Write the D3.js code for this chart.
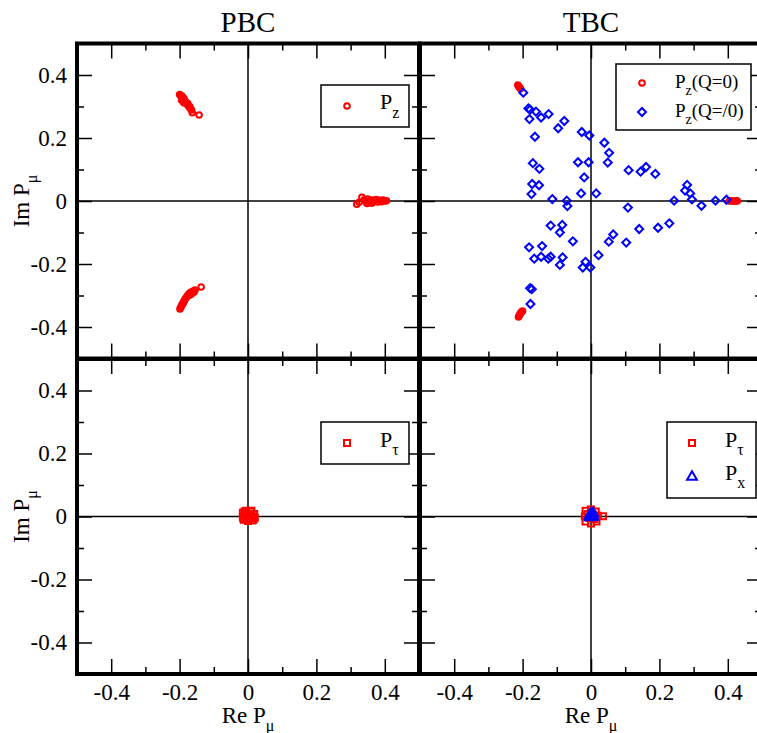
<!DOCTYPE html>
<html>
<head>
<meta charset="utf-8">
<script src="https://cdn.jsdelivr.net/npm/d3@7"></script>
<style>
  body { margin: 0; background: #fff; }
  svg text { font-family: "Liberation Serif", "DejaVu Serif", serif; fill: #000; }
</style>
</head>
<body>
<div id="chart"></div>
<script>
// PBC, P_z : three clusters
const pbcPz = [
  [-0.200, 0.338], [-0.197, 0.335], [-0.195, 0.331], [-0.193, 0.333], [-0.191, 0.327],
  [-0.189, 0.322], [-0.187, 0.325], [-0.185, 0.318], [-0.182, 0.315], [-0.180, 0.311],
  [-0.178, 0.306], [-0.176, 0.309], [-0.174, 0.302], [-0.172, 0.298], [-0.170, 0.300],
  [-0.168, 0.293], [-0.165, 0.289], [-0.163, 0.280], [-0.143, 0.273], [-0.188, 0.312],
  [-0.194, 0.320],
  [0.318, -0.010], [0.325, -0.004], [0.333, 0.012], [0.340, 0.004], [0.345, -0.002],
  [0.350, 0.006], [0.355, -0.003], [0.360, 0.003], [0.365, -0.004], [0.370, 0.002],
  [0.375, 0.005], [0.380, -0.003], [0.385, 0.002], [0.390, -0.002], [0.395, 0.003],
  [0.400, 0.000], [0.405, 0.001], [0.348, -0.008], [0.362, -0.007],
  [-0.199, -0.343], [-0.197, -0.338], [-0.195, -0.334], [-0.193, -0.329], [-0.190, -0.325],
  [-0.188, -0.320], [-0.186, -0.316], [-0.184, -0.312], [-0.182, -0.308], [-0.179, -0.304],
  [-0.176, -0.299], [-0.173, -0.295], [-0.170, -0.292], [-0.167, -0.290], [-0.163, -0.288],
  [-0.160, -0.286], [-0.155, -0.283], [-0.137, -0.273], [-0.172, -0.300], [-0.166, -0.296],
  [-0.158, -0.290]
];

// TBC, P_z with Q=0
const tbcPzQ0 = [
  [-0.214, 0.368], [-0.212, 0.365], [-0.210, 0.362], [-0.208, 0.359], [-0.206, 0.356],
  [-0.212, -0.368], [-0.210, -0.364], [-0.208, -0.360], [-0.206, -0.356], [-0.203, -0.352],
  [-0.200, -0.349],
  [0.405, 0.000], [0.410, 0.001], [0.415, -0.001], [0.420, 0.000], [0.425, 0.001], [0.428, 0.000]
];

// TBC, P_z with Q != 0
const tbcPzQn = [
  [-0.198, 0.344], [-0.183, 0.294], [-0.178, 0.290], [-0.161, 0.284], [-0.180, 0.260],
  [-0.146, 0.265], [-0.124, 0.276], [-0.078, 0.254], [-0.096, 0.231], [-0.164, 0.204],
  [-0.027, 0.219], [-0.005, 0.208], [0.039, 0.185], [0.053, 0.153], [0.049, 0.122],
  [-0.170, 0.120], [-0.151, 0.102], [-0.038, 0.123], [-0.007, 0.123], [-0.020, 0.075],
  [-0.172, 0.054], [-0.152, 0.050], [-0.174, 0.022], [-0.029, 0.024], [0.015, 0.024],
  [-0.113, 0.006], [-0.071, 0.001], [0.110, 0.098], [0.145, 0.093], [0.161, 0.108],
  [0.188, 0.086], [0.281, 0.051], [0.275, 0.033], [0.290, 0.024], [0.295, 0.005],
  [0.243, 0.001], [0.364, 0.001], [0.396, 0.004], [0.323, -0.015], [0.108, -0.021],
  [-0.069, -0.016],
  [-0.118, -0.078], [-0.084, -0.076], [-0.091, -0.100], [-0.053, -0.128], [-0.181, -0.147],
  [-0.143, -0.143], [-0.166, -0.183], [-0.146, -0.177], [-0.125, -0.183], [-0.118, -0.177],
  [-0.083, -0.179], [-0.091, -0.203], [-0.024, -0.211], [-0.016, -0.193], [-0.002, -0.211],
  [0.022, -0.172], [0.052, -0.129], [0.065, -0.106], [0.103, -0.132], [0.141, -0.089],
  [0.196, -0.085], [0.229, -0.071], [-0.178, -0.277], [-0.173, -0.280], [-0.177, -0.327]
];

// PBC, P_tau
const pbcPtau = [
  [-0.015, 0.012], [-0.005, 0.018], [0.008, 0.016], [0.018, 0.008], [0.020, -0.004],
  [0.012, -0.013], [0.000, -0.014], [-0.012, -0.010], [-0.015, 0.000], [0.000, 0.000],
  [0.008, 0.005], [-0.006, 0.006], [0.005, -0.006], [-0.004, -0.004], [0.014, 0.000],
  [-0.010, 0.016], [0.016, -0.010], [-0.014, -0.006], [0.010, 0.018]
];

// TBC, P_tau
const tbcPtau = [
  [-0.016, 0.018], [0.000, 0.022], [0.014, 0.016], [0.020, 0.002], [0.016, -0.016],
  [0.000, -0.022], [-0.016, -0.016], [-0.018, 0.000], [0.000, 0.000], [0.006, 0.006],
  [-0.005, -0.005], [0.010, -0.008], [-0.010, 0.008], [0.035, 0.001]
];

// TBC, P_x
const tbcPx = [
  [0.000, 0.008], [0.004, 0.004], [-0.004, 0.003], [0.002, -0.002], [0.006, 0.010],
  [-0.003, -0.003], [0.006, -0.001], [0.000, 0.000]
];

const majorTicks = [-0.4, -0.2, 0, 0.2, 0.4];
const minorTicks = [-0.3, -0.1, 0.1, 0.3];
const titles = ["PBC", "TBC"];

const width = 757;
const height = 733;
const cols = [[77, 419], [420, 762]];
const rows = [[43.5, 358.5], [359, 674]];
const red = "#ff0000";
const blue = "#0000ff";
const serif = '"Liberation Serif", "DejaVu Serif", serif';

const svg = d3.select("#chart")
  .append("svg")
  .attr("width", width)
  .attr("height", height);

const tickFmt = d => d === 0 ? "0" : d3.format(".1f")(d).replace("\u2212", "-");

function drawPanel(ci, ri) {
  const x = d3.scaleLinear().domain([-0.5, 0.5]).range(cols[ci]);
  const y = d3.scaleLinear().domain([-0.5, 0.5]).range([rows[ri][1], rows[ri][0]]);
  const g = svg.append("g");

  // zero lines
  g.append("line")
    .attr("x1", x(-0.5)).attr("x2", x(0.5)).attr("y1", y(0)).attr("y2", y(0))
    .attr("stroke", "#000").attr("stroke-width", 1.5);
  g.append("line")
    .attr("x1", x(0)).attr("x2", x(0)).attr("y1", y(-0.5)).attr("y2", y(0.5))
    .attr("stroke", "#000").attr("stroke-width", 1.5);

  // ticks, all pointing inward
  const axes = [
    [d3.axisBottom(x), `translate(0,${y(-0.5)})`, ri === 1],
    [d3.axisTop(x), `translate(0,${y(0.5)})`, false],
    [d3.axisLeft(y), `translate(${x(-0.5)},0)`, ci === 0],
    [d3.axisRight(y), `translate(${x(0.5)},0)`, false]
  ];
  axes.forEach(([axis, tr, labels]) => {
    g.append("g")
      .attr("transform", tr)
      .call(axis.tickValues(minorTicks).tickSize(-7).tickFormat(""))
      .call(a => a.select(".domain").remove())
      .selectAll("line").attr("stroke-width", 1.5);
    const a = g.append("g")
      .attr("transform", tr)
      .call(axis.tickValues(majorTicks).tickSize(-15).tickPadding(10)
        .tickFormat(labels ? tickFmt : ""));
    a.select(".domain").remove();
    a.selectAll("line").attr("stroke-width", 1.5);
    a.selectAll("text")
      .style("font-family", serif)
      .style("font-size", "23px")
      .attr("fill", "#000");
  });

  // frame
  g.append("rect")
    .attr("x", x(-0.5)).attr("y", y(0.5))
    .attr("width", x(0.5) - x(-0.5)).attr("height", y(-0.5) - y(0.5))
    .attr("fill", "none").attr("stroke", "#000").attr("stroke-width", 4);

  return { g, x, y };
}

function circles(p, data) {
  p.g.append("g").selectAll("circle").data(data).join("circle")
    .attr("cx", d => p.x(d[0])).attr("cy", d => p.y(d[1])).attr("r", 2.8)
    .attr("fill", "none").attr("stroke", red).attr("stroke-width", 2);
}

function symbols(p, data, type, size, color, rot) {
  p.g.append("g").selectAll("path").data(data).join("path")
    .attr("d", d3.symbol(type, size))
    .attr("transform", d => `translate(${p.x(d[0])},${p.y(d[1])}) rotate(${rot})`)
    .attr("fill", "none").attr("stroke", color).attr("stroke-width", 2);
}

function legendBox(x0, y0, x1, y1) {
  svg.append("rect")
    .attr("x", x0).attr("y", y0).attr("width", x1 - x0).attr("height", y1 - y0)
    .attr("fill", "#fff").attr("stroke", "#000").attr("stroke-width", 1.5);
}

function legendText(x0, yb, sub, rest, size, subSize, subDy) {
  const t = svg.append("text").attr("x", x0).attr("y", yb).style("font-size", size + "px");
  t.append("tspan").text("P");
  t.append("tspan").attr("dy", subDy).style("font-size", subSize + "px").text(sub);
  if (rest) t.append("tspan").attr("dy", -subDy).text(rest);
}

const tl = drawPanel(0, 0);
const tr = drawPanel(1, 0);
const bl = drawPanel(0, 1);
const br = drawPanel(1, 1);

circles(tl, pbcPz);
circles(tr, tbcPzQ0);
symbols(tr, tbcPzQn, d3.symbolSquare, 32, blue, 45);
symbols(bl, pbcPtau, d3.symbolSquare, 36, red, 0);
symbols(br, tbcPtau, d3.symbolSquare, 36, red, 0);
symbols(br, tbcPx, d3.symbolTriangle, 42, blue, 0);

// legends
legendBox(321, 85, 409, 127);
svg.append("circle").attr("cx", 347).attr("cy", 106).attr("r", 2.8)
  .attr("fill", "none").attr("stroke", red).attr("stroke-width", 2);
legendText(380, 109, "z", null, 22, 16, 9);

legendBox(616, 64, 751, 130);
svg.append("circle").attr("cx", 642).attr("cy", 83).attr("r", 2.8)
  .attr("fill", "none").attr("stroke", red).attr("stroke-width", 2);
svg.append("path").attr("d", d3.symbol(d3.symbolSquare, 32))
  .attr("transform", "translate(642,112) rotate(45)")
  .attr("fill", "none").attr("stroke", blue).attr("stroke-width", 2);
legendText(675, 88, "z", "(Q=0)", 19, 14, 7);
legendText(675, 117, "z", "(Q=/0)", 19, 14, 7);

legendBox(321, 422, 409, 464);
svg.append("path").attr("d", d3.symbol(d3.symbolSquare, 36))
  .attr("transform", "translate(347,443)")
  .attr("fill", "none").attr("stroke", red).attr("stroke-width", 2);
legendText(380, 447, "\u03c4", null, 22, 16, 8);

legendBox(667, 422, 756, 498);
svg.append("path").attr("d", d3.symbol(d3.symbolSquare, 36))
  .attr("transform", "translate(692,443)")
  .attr("fill", "none").attr("stroke", red).attr("stroke-width", 2);
svg.append("path").attr("d", d3.symbol(d3.symbolTriangle, 42))
  .attr("transform", "translate(692,477)")
  .attr("fill", "none").attr("stroke", blue).attr("stroke-width", 2);
legendText(725, 447, "\u03c4", null, 22, 16, 8);
legendText(725, 480, "x", null, 22, 16, 8);

// titles
titles.forEach((t, i) => {
  const x = d3.scaleLinear().domain([-0.5, 0.5]).range(cols[i]);
  svg.append("text").attr("x", x(0)).attr("y", 32)
    .attr("text-anchor", "middle").style("font-size", "29px").text(t);
});

// axis labels
[0, 1].forEach(i => {
  const x = d3.scaleLinear().domain([-0.5, 0.5]).range(cols[i]);
  const t = svg.append("text").attr("x", x(0)).attr("y", 723)
    .attr("text-anchor", "middle").style("font-size", "23px");
  t.append("tspan").text("Re P");
  t.append("tspan").attr("dy", 8).style("font-size", "16px").text("\u03bc");

  const y = d3.scaleLinear().domain([-0.5, 0.5]).range([rows[i][1], rows[i][0]]);
  const s = svg.append("text")
    .attr("transform", `translate(29,${y(0)}) rotate(-90)`)
    .attr("text-anchor", "middle").style("font-size", "23px");
  s.append("tspan").text("Im P");
  s.append("tspan").attr("dy", 8).style("font-size", "16px").text("\u03bc");
});
</script>
</body>
</html>
